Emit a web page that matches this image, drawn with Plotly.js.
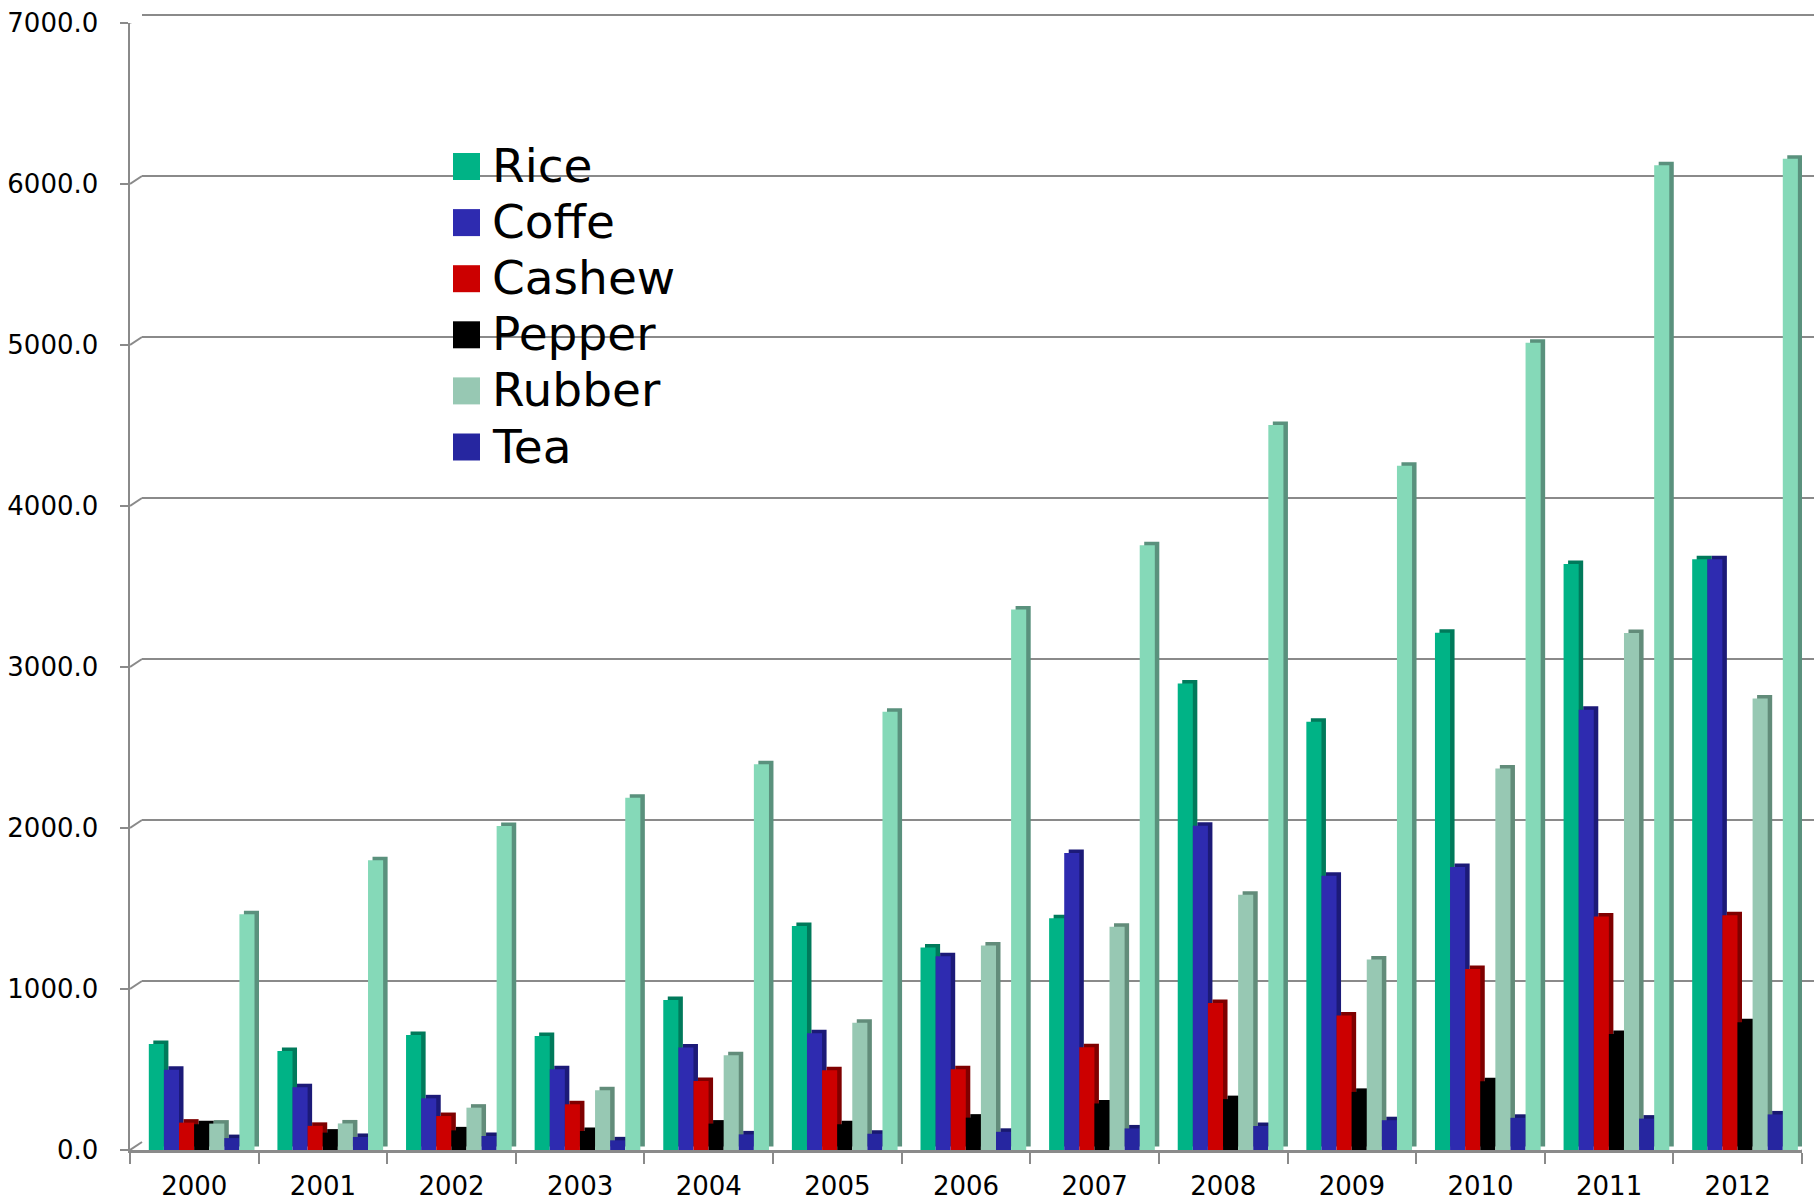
<!DOCTYPE html>
<html>
<head>
<meta charset="utf-8">
<script src="https://cdn.plot.ly/plotly-3.0.1.min.js"></script>
<style>
  html, body { margin: 0; padding: 0; background: #ffffff; }
  #chart { width: 1814px; height: 1201px; }
</style>
</head>
<body>
<div id="chart"></div>
<script>
// Export values by year (million USD)
const years   = ['2000','2001','2002','2003','2004','2005','2006','2007','2008','2009','2010','2011','2012'];
const rice    = [658, 615, 714, 708, 932, 1391, 1257, 1440, 2898, 2660, 3212, 3640, 3670];
const coffe   = [498, 390, 321, 501, 636, 725, 1203, 1845, 2014, 1703, 1758, 2734, 3670];
const cashew  = [170, 150, 211, 284, 429, 495, 501, 638, 913, 835, 1124, 1451, 1458];
const pepper  = [160, 108, 122, 118, 164, 160, 201, 289, 316, 361, 427, 721, 794];
const rubber  = [164, 165, 263, 371, 588, 791, 1270, 1387, 1585, 1184, 2370, 3211, 2805];
const tea     = [74, 81, 87, 60, 97, 101, 113, 134, 149, 185, 200, 195, 221];
const seafood = [1464, 1799, 2013, 2188, 2396, 2722, 3357, 3756, 4503, 4250, 5014, 6116, 6157];

const seriesNames = ['Rice', 'Coffe', 'Cashew', 'Pepper', 'Rubber', 'Tea', 'Seafood'];
const seriesValues = [rice, coffe, cashew, pepper, rubber, tea, seafood];
const inLegend = [true, true, true, true, true, true, false];
const yTicks = [0, 1000, 2000, 3000, 4000, 5000, 6000, 7000];
const yMax = 7000;

// Face / shaded side colours for the pseudo-3D columns
const faceColors = ['#00b386', '#2e2bb0', '#cc0000', '#000000', '#97c8b3', '#2626a0', '#85d9b8'];
const sideColors = ['#007a5b', '#1c1a78', '#7f0000', '#000000', '#628c7a', '#191970', '#5a917d'];

// Geometry (pixels)
const W = 1814, H = 1201;
const M = { l: 130, r: 0, t: 13, b: 51 };
const plotW = W - M.l - M.r;
const plotH = H - M.t - M.b;
const depthX = 12, depthY = 8;          // back wall offset
const headroom = 2;                     // keeps the top wall gridline inside the clip
const frontW = plotW - depthX;
const frontH = plotH - depthY - headroom;
const catPx = frontW / years.length;
const unitPx = frontH / yMax;

const barW = 15.1 / catPx;             // category units
const startOff = -45.5 / catPx;
const sideDx = 4.5 / catPx;
const capDy = 3.5 / unitPx;             // value units

const gridColor = '#8a8a8a';
const tickFont = { family: 'DejaVu Sans, Verdana, sans-serif', size: 26, color: '#000000' };

const traces = [];
// back wall subplot carrier (keeps the wall axes alive)
traces.push({
  type: 'scatter', x: [0.5], y: [0], mode: 'markers', marker: { opacity: 0 },
  xaxis: 'x', yaxis: 'y', showlegend: false, hoverinfo: 'skip', name: 'wall'
});
// shaded side / top faces first so the front faces sit above them
seriesValues.forEach((vals, i) => {
  traces.push({
    type: 'bar', x: years, y: vals, base: capDy,
    offset: startOff + i * barW + sideDx, width: barW,
    marker: { color: sideColors[i], line: { width: 0 } },
    xaxis: 'x2', yaxis: 'y2', showlegend: false, hoverinfo: 'skip', name: seriesNames[i] + ' side'
  });
});
seriesValues.forEach((vals, i) => {
  traces.push({
    type: 'bar', x: years, y: vals,
    offset: startOff + i * barW, width: barW,
    marker: { color: faceColors[i], line: { width: 0 } },
    xaxis: 'x2', yaxis: 'y2', showlegend: false, name: seriesNames[i]
  });
});

// Wall-to-axis connectors and floor corner
const shapes = [];
yTicks.forEach(v => {
  shapes.push({
    type: 'line', xref: 'x2', yref: 'y2',
    xsizemode: 'pixel', xanchor: -0.5, x0: 0, x1: depthX,
    ysizemode: 'pixel', yanchor: v, y0: 0, y1: depthY,
    line: { color: gridColor, width: 2 }, layer: 'below'
  });
});
shapes.push({
  type: 'line', xref: 'x2', yref: 'y2',
  xsizemode: 'pixel', xanchor: years.length - 0.5, x0: 0, x1: depthX,
  ysizemode: 'pixel', yanchor: 0, y0: 0, y1: depthY,
  line: { color: gridColor, width: 2 }, layer: 'below'
});

// Legend drawn as squares + labels
const pxX = px => (px - M.l) / plotW;
const pxY = py => (H - M.b - py) / plotH;
const annotations = [];
const legX = 453, legSize = 27, legTop = 166.5, legStep = 56.1;
seriesNames.forEach((name, i) => {
  if (!inLegend[i]) return;
  const cy = legTop + i * legStep;
  shapes.push({
    type: 'rect', xref: 'paper', yref: 'paper',
    x0: pxX(legX), x1: pxX(legX + legSize),
    y0: pxY(cy + legSize / 2), y1: pxY(cy - legSize / 2),
    fillcolor: faceColors[i], line: { width: 0 }, layer: 'above'
  });
  annotations.push({
    xref: 'paper', yref: 'paper', x: pxX(490), y: pxY(cy - 1),
    xanchor: 'left', yanchor: 'middle', showarrow: false, text: name,
    font: { family: 'DejaVu Sans, Verdana, sans-serif', size: 47, color: '#000000' }
  });
});

const layout = {
  width: W, height: H,
  margin: M,
  paper_bgcolor: '#ffffff',
  plot_bgcolor: 'rgba(0,0,0,0)',
  barmode: 'overlay',
  showlegend: false,
  // back wall with gridlines
  xaxis: {
    domain: [depthX / plotW, 1], range: [0, 1], anchor: 'y',
    showgrid: false, zeroline: false, showline: false, ticks: '', showticklabels: false, fixedrange: true
  },
  yaxis: {
    domain: [depthY / plotH, 1], range: [0, yMax * (frontH + headroom) / frontH], anchor: 'x',
    tickvals: yTicks, showgrid: true, gridcolor: gridColor, gridwidth: 2.5,
    showticklabels: false, ticks: '', zeroline: false, showline: false, fixedrange: true
  },
  // front plane with columns and axes
  xaxis2: {
    domain: [0, frontW / plotW], anchor: 'y2', type: 'category',
    range: [-0.5, years.length - 0.5],
    showline: true, linecolor: gridColor, linewidth: 2.5,
    ticks: 'outside', tickson: 'boundaries', ticklen: 11, tickwidth: 2, tickcolor: gridColor,
    showgrid: false, tickfont: tickFont, ticklabelstandoff: 11, fixedrange: true
  },
  yaxis2: {
    domain: [0, frontH / plotH], anchor: 'x2', range: [0, yMax],
    tickvals: yTicks, tickformat: '.1f',
    showline: true, linecolor: gridColor, linewidth: 2.5,
    ticks: 'outside', ticklen: 8, tickwidth: 2, tickcolor: gridColor,
    showgrid: false, zeroline: false, tickfont: tickFont, ticklabelstandoff: 16, fixedrange: true
  },
  shapes: shapes,
  annotations: annotations
};

Plotly.newPlot('chart', traces, layout, { staticPlot: true, displayModeBar: false });
</script>
</body>
</html>
